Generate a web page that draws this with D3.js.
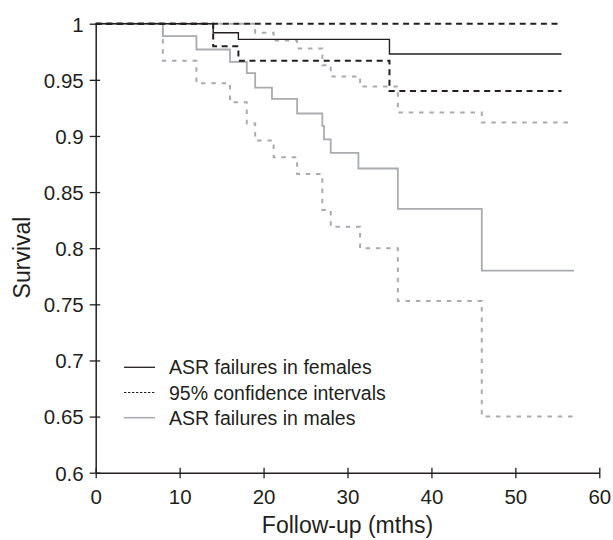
<!DOCTYPE html>
<html>
<head>
<meta charset="utf-8">
<script src="https://cdn.jsdelivr.net/npm/d3@7"></script>
<style>
  body { margin: 0; background: #fff; }
  svg text { font-family: "Liberation Sans", Arial, sans-serif; fill: #231f20; }
</style>
</head>
<body>
<div id="chart"></div>
<script>
// female survival (Kaplan-Meier steps)
var femaleTime  = [0, 14, 17, 35, 55.5]
var femaleSurv  = [1, 0.992, 0.986, 0.973, 0.973]
var femaleUpTime = [0, 55.5]
var femaleUp     = [1, 1]
var femaleLoTime = [0, 14, 17, 35, 55.5]
var femaleLo     = [1, 0.98, 0.967, 0.94, 0.94]

// male survival
var maleTime = [0, 8, 12, 16, 18, 19, 21, 24, 27, 27.2, 28, 31.3, 36, 46, 57]
var maleSurv = [1, 0.989, 0.977, 0.966, 0.956, 0.943, 0.933, 0.92, 0.909, 0.897, 0.885, 0.871, 0.835, 0.78, 0.78]
var maleUpTime = [0, 19, 21.2, 24, 27, 28, 31.5, 36, 46, 56.5]
var maleUp     = [1, 0.992, 0.985, 0.978, 0.963, 0.953, 0.944, 0.921, 0.912, 0.912]
var maleLoTime = [0, 8, 12, 16, 18, 19, 21.2, 24, 27, 28, 31.5, 36, 46, 57]
var maleLo     = [1, 0.967, 0.947, 0.93, 0.911, 0.896, 0.881, 0.866, 0.834, 0.819, 0.8, 0.753, 0.65, 0.65]

var xTicks = [0, 10, 20, 30, 40, 50, 60]
var yTicks = [0.6, 0.65, 0.7, 0.75, 0.8, 0.85, 0.9, 0.95, 1]
var yTickLabels = ['0.6', '0.65', '0.7', '0.75', '0.8', '0.85', '0.9', '0.95', '1']
var legendLabels = ['ASR failures in females', '95% confidence intervals', 'ASR failures in males']

var width = 613, height = 540
var dark = '#231f20', grey = '#a9abae'

var svg = d3.select('#chart').append('svg')
  .attr('width', width)
  .attr('height', height)

var x = d3.scaleLinear().domain([0, 60]).range([95.7, 599.3])
var y = d3.scaleLinear().domain([0.6, 1]).range([472.7, 23.7])

function zip(ts, vs) {
  return ts.map(function(t, i) { return [t, vs[i]] })
}

var line = d3.line()
  .curve(d3.curveStepAfter)
  .x(function(d) { return x(d[0]) })
  .y(function(d) { return y(d[1]) })

var series = [
  { data: zip(maleLoTime, maleLo), stroke: grey, width: 2, dash: '4.5,5.8' },
  { data: zip(maleUpTime, maleUp), stroke: grey, width: 2, dash: '4.5,5.8' },
  { data: zip(maleTime, maleSurv), stroke: grey, width: 1.8, dash: null },
  { data: zip(femaleLoTime, femaleLo), stroke: dark, width: 2, dash: '6,4.6' },
  { data: zip(femaleUpTime, femaleUp), stroke: dark, width: 2, dash: '6,4.6' },
  { data: zip(femaleTime, femaleSurv), stroke: dark, width: 1.4, dash: null },
]

svg.selectAll('path.km')
  .data(series)
  .enter()
  .append('path')
  .attr('class', 'km')
  .attr('fill', 'none')
  .attr('stroke', function(d) { return d.stroke })
  .attr('stroke-width', function(d) { return d.width })
  .attr('stroke-dasharray', function(d) { return d.dash })
  .attr('d', function(d) { return line(d.data) })

// axes
var xAxis = d3.axisBottom(x).tickValues(xTicks).tickSizeOuter(0).tickSizeInner(5.5)
var yAxis = d3.axisLeft(y).tickValues(yTicks).tickSizeOuter(0).tickSizeInner(6)
  .tickFormat(function(d, i) { return yTickLabels[i] })

svg.append('g')
  .attr('transform', 'translate(0,' + y(0.6) + ')')
  .call(customXAxis)
svg.append('g')
  .attr('transform', 'translate(' + x(0) + ',0)')
  .call(customYAxis)

function customXAxis(g) {
  g.call(xAxis)
  g.select('.domain').attr('stroke', dark).attr('stroke-width', 1.5)
  g.selectAll('.tick line').attr('stroke', dark).attr('stroke-width', 1.3).attr('y1', -5)
  g.selectAll('.tick text')
    .attr('y', 31).attr('dy', 0)
    .attr('font-size', '20.5px')
    .attr('fill', dark)
}

function customYAxis(g) {
  g.call(yAxis)
  g.select('.domain').attr('stroke', dark).attr('stroke-width', 1.5)
  g.selectAll('.tick line').attr('stroke', dark).attr('stroke-width', 1.3).attr('x1', 4.5)
  g.selectAll('.tick text')
    .attr('x', -12).attr('dy', '0.36em')
    .attr('font-size', '20.5px')
    .attr('fill', dark)
}

// axis titles
svg.append('text')
  .attr('x', x(30))
  .attr('y', 533)
  .attr('text-anchor', 'middle')
  .attr('font-size', '23px')
  .text('Follow-up (mths)')

svg.append('text')
  .attr('transform', 'translate(29.5,257.5) rotate(-90)')
  .attr('text-anchor', 'middle')
  .attr('font-size', '23px')
  .text('Survival')

// legend
var legendStyle = [
  { stroke: dark, width: 1.3, dash: null },
  { stroke: dark, width: 1.2, dash: '2.4,1.6' },
  { stroke: grey, width: 1.6, dash: null },
]
var legend = svg.append('g')
  .selectAll('g')
  .data(legendLabels)
  .enter()
  .append('g')
  .attr('transform', function(d, i) { return 'translate(124,' + (367.3 + i * 25.2) + ')' })

legend.append('line')
  .attr('x1', 0).attr('x2', 31)
  .attr('stroke', function(d, i) { return legendStyle[i].stroke })
  .attr('stroke-width', function(d, i) { return legendStyle[i].width })
  .attr('stroke-dasharray', function(d, i) { return legendStyle[i].dash })

legend.append('text')
  .attr('x', 45)
  .attr('dy', '0.36em')
  .attr('font-size', '19.5px')
  .text(function(d) { return d })
</script>
</body>
</html>
